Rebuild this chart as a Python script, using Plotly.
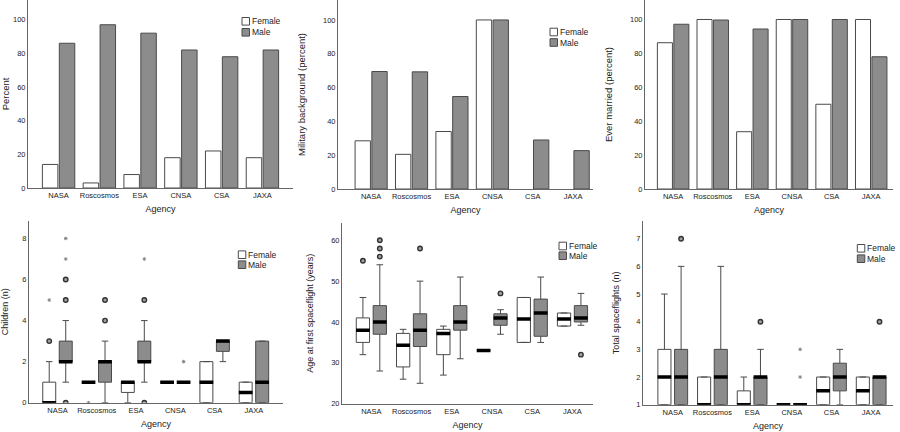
import plotly.graph_objects as go
import numpy as np

# ---------------- data ----------------
agencies = ["NASA", "Roscosmos", "ESA", "CNSA", "CSA", "JAXA"]

pct_female = [14, 3, 8, 18, 22, 18]
pct_male = [86, 97, 92, 82, 78, 82]

mil_female = [28.5, 20.5, 34, 100, None, None]
mil_male = [69.5, 69.3, 54.7, 100, 29, 22.7]

mar_female = [86.3, 100, 33.8, 100, 50, 100]
mar_male = [97.2, 99.7, 94.4, 100, 100, 78]

# Children (n): q1, median, q3, lower whisker, upper whisker
ch_f_q1 = [0, 1, 0.5, 1, 0, 0]
ch_f_med = [0, 1, 1, 1, 1, 0.5]
ch_f_q3 = [1, 1, 1, 1, 2, 1]
ch_f_lo = [0, 1, 0, 1, 0, 0]
ch_f_hi = [2, 1, 1, 1, 2, 1]
ch_m_q1 = [2, 1, 2, 1, 2.5, 0]
ch_m_med = [2, 2, 2, 1, 3, 1]
ch_m_q3 = [3, 2, 3, 1, 3, 3]
ch_m_lo = [1, 0, 1, 1, 2, 0]
ch_m_hi = [4, 3, 4, 1, 3, 3]
ch_f_out_agency = ["NASA"]
ch_f_out_val = [3]
ch_f_ext_agency = ["NASA", "Roscosmos"]
ch_f_ext_val = [5, 0]
ch_m_out_agency = ["NASA", "NASA", "NASA", "Roscosmos", "Roscosmos", "ESA", "ESA"]
ch_m_out_val = [5, 6, 0, 4, 5, 5, 0]
ch_m_ext_agency = ["NASA", "NASA", "ESA", "CNSA"]
ch_m_ext_val = [7, 8, 7, 2]

# Age at first spaceflight (years)
ag_f_q1 = [35, 29, 32, 33, 35, 39]
ag_f_med = [38, 34.3, 37.2, 33, 40.7, 40.7]
ag_f_q3 = [41, 37.2, 38.2, 33, 46, 42.2]
ag_f_lo = [32, 26, 27, 33, 35, 39]
ag_f_hi = [46, 38.2, 39, 33, 46, 42.2]
ag_m_q1 = [37, 34, 38, 39.2, 36.5, 40]
ag_m_med = [40, 38, 40, 41, 42.2, 41]
ag_m_q3 = [44, 42, 44, 42, 45.6, 44]
ag_m_lo = [28, 25, 31, 37, 35, 39.2]
ag_m_hi = [54, 50, 51, 43, 51, 47]
ag_f_out_agency = ["NASA"]
ag_f_out_val = [55]
ag_m_out_agency = ["NASA", "NASA", "NASA", "Roscosmos", "CNSA", "JAXA"]
ag_m_out_val = [56, 58, 60, 58, 47, 32]

# Total spaceflights (n)
sf_f_q1 = [1, 1, 1, 1, 1, 1]
sf_f_med = [2, 1, 1, 1, 1.5, 1.5]
sf_f_q3 = [3, 2, 1.5, 1, 2, 2]
sf_f_lo = [1, 1, 1, 1, 1, 1]
sf_f_hi = [5, 2, 2, 1, 2, 2]
sf_m_q1 = [1, 1, 1, 1, 1.5, 1]
sf_m_med = [2, 2, 2, 1, 2, 2]
sf_m_q3 = [3, 3, 2, 1, 2.5, 2]
sf_m_lo = [1, 1, 1, 1, 1, 1]
sf_m_hi = [6, 6, 3, 1, 3, 2]
sf_m_out_agency = ["NASA", "ESA", "JAXA"]
sf_m_out_val = [7, 4, 4]
sf_m_ext_agency = ["CNSA", "CNSA"]
sf_m_ext_val = [2, 3]

# ---------------- style ----------------
FONT = "Liberation Sans, Arial, sans-serif"
GRAY = "#8c8c8c"
EDGE = "#4a4a4a"
AXIS = "#666666"
BOXW = 0.33
OFF = 0.21

idx = {a: i for i, a in enumerate(agencies)}
pos = np.arange(len(agencies))

fig = go.Figure()


def add_bars(n, fem, mal):
    xa, ya = f"x{n}" if n > 1 else "x", f"y{n}" if n > 1 else "y"
    fig.add_trace(go.Bar(x=agencies, y=fem, name="Female", marker=dict(color="white", line=dict(color=EDGE, width=1)),
                         xaxis=xa, yaxis=ya, showlegend=False, offsetgroup="f"))
    fig.add_trace(go.Bar(x=agencies, y=mal, name="Male", marker=dict(color=GRAY, line=dict(color=EDGE, width=1)),
                         xaxis=xa, yaxis=ya, showlegend=False, offsetgroup="m"))


def add_boxes(n, f, m, outs, exts):
    xa, ya = f"x{n}", f"y{n}"
    for (q1, med, q3, lo, hi), off, fill, name in [(f, -OFF, "white", "Female"), (m, OFF, GRAY, "Male")]:
        xs = pos + off
        fig.add_trace(go.Box(x=xs, q1=q1, median=med, q3=q3, lowerfence=lo, upperfence=hi,
                             width=BOXW, whiskerwidth=0.5, fillcolor=fill, name=name,
                             line=dict(color=EDGE, width=1), boxpoints=False,
                             xaxis=xa, yaxis=ya, showlegend=False))
        fig.add_trace(go.Scatter(x=xs, y=med, mode="markers", xaxis=xa, yaxis=ya, showlegend=False,
                                 marker=dict(symbol="line-ew", size=9.8, line=dict(color="black", width=3.5)),
                                 hoverinfo="skip"))
    for ag, val, off in outs:
        if ag:
            fig.add_trace(go.Scatter(x=[idx[a] + off for a in ag], y=val, mode="markers", xaxis=xa, yaxis=ya,
                                     showlegend=False,
                                     marker=dict(symbol="circle", size=4.5, color="#a0a0a0",
                                                 line=dict(color="#333333", width=1.4))))
    for ag, val, off in exts:
        if ag:
            fig.add_trace(go.Scatter(x=[idx[a] + off for a in ag], y=val, mode="markers", xaxis=xa, yaxis=ya,
                                     showlegend=False,
                                     marker=dict(symbol="asterisk-open", size=3, color="#888888",
                                                 line=dict(color="#999999", width=1))))


add_bars(1, pct_female, pct_male)
add_bars(2, mil_female, mil_male)
add_bars(3, mar_female, mar_male)
add_boxes(4, (ch_f_q1, ch_f_med, ch_f_q3, ch_f_lo, ch_f_hi), (ch_m_q1, ch_m_med, ch_m_q3, ch_m_lo, ch_m_hi),
          [(ch_f_out_agency, ch_f_out_val, -OFF), (ch_m_out_agency, ch_m_out_val, OFF)],
          [(ch_f_ext_agency, ch_f_ext_val, -OFF), (ch_m_ext_agency, ch_m_ext_val, OFF)])
add_boxes(5, (ag_f_q1, ag_f_med, ag_f_q3, ag_f_lo, ag_f_hi), (ag_m_q1, ag_m_med, ag_m_q3, ag_m_lo, ag_m_hi),
          [(ag_f_out_agency, ag_f_out_val, -OFF), (ag_m_out_agency, ag_m_out_val, OFF)], [])
add_boxes(6, (sf_f_q1, sf_f_med, sf_f_q3, sf_f_lo, sf_f_hi), (sf_m_q1, sf_m_med, sf_m_q3, sf_m_lo, sf_m_hi),
          [(sf_m_out_agency, sf_m_out_val, OFF)], [(sf_m_ext_agency, sf_m_ext_val, OFF)])

W, H = 900, 432
# panel geometry in pixels: (x0, x1, ybottom, ytop)
panels = {
    1: (28, 293, 188, 0),
    2: (338, 593, 189, 0),
    3: (645, 893, 189, 0),
    4: (29, 283, 402.7, 221),
    5: (342, 593, 403.7, 222.7),
    6: (643, 893, 404.7, 221),
}
xranges = {1: [-0.75, 5.75], 2: [-0.82, 5.49], 3: [-0.71, 5.55], 4: [-0.725, 5.74], 5: [-0.73, 5.51], 6: [-0.75, 5.55]}
yranges = {1: [0, 111.7], 2: [0, 111.8], 3: [0, 111.5], 4: [0, 8.85], 5: [20, 64.3], 6: [1, 7.64]}
ytitles = {1: "Percent", 2: "Military background (percent)", 3: "Ever married (percent)",
           4: "Children (n)", 5: "Age at first spaceflight (years)", 6: "Total spaceflights (n)"}
ytitle_size = {1: 9.5, 2: 9.5, 3: 9.5, 4: 9, 5: 9, 6: 9}
yticks = {1: [0, 20, 40, 60, 80, 100], 2: [0, 20, 40, 60, 80, 100], 3: [0, 20, 40, 60, 80, 100],
          4: [0, 2, 4, 6, 8], 5: [20, 30, 40, 50, 60], 6: [1, 2, 3, 4, 5, 6, 7]}

layout = dict(
    width=W, height=H, margin=dict(l=0, r=0, t=0, b=0),
    paper_bgcolor="white", plot_bgcolor="white",
    font=dict(family=FONT, color="#222222"),
    barmode="group", bargap=0.17, bargroupgap=0.085,
    boxmode="overlay",
)
for n, (x0, x1, yb, yt) in panels.items():
    s = "" if n == 1 else str(n)
    xax = dict(domain=[x0 / W, x1 / W], range=xranges[n], anchor=f"y{s}" if s else "y",
               showline=True, linecolor=AXIS, linewidth=1, showgrid=False, zeroline=False, automargin=True,
               ticks="", tickfont=dict(size=7.5, family=FONT),
               title=dict(text="Agency", font=dict(size=9, family=FONT), standoff=6))
    if n >= 4:
        xax.update(tickvals=list(pos), ticktext=agencies)
    yax = dict(domain=[1 - yb / H, 1 - yt / H], range=yranges[n], anchor=f"x{s}" if s else "x",
               showline=True, linecolor=AXIS, linewidth=1, showgrid=False, zeroline=False, automargin=False,
               ticks="", tickvals=yticks[n], tickfont=dict(size=7.5, family=FONT),
               title=dict(text=ytitles[n], font=dict(size=ytitle_size[n], family=FONT)))
    layout[f"xaxis{s}"] = xax
    layout[f"yaxis{s}"] = yax

fig.update_layout(**layout)

# hand-drawn compact legends (swatch left x, female centre y, male centre y) in pixels
legends = [(242, 21.3, 32.3), (550, 32, 42.5), (238.3, 254.7, 264.7), (559, 246, 255.7), (857.3, 248.3, 258.7)]
for lx, fy, my in legends:
    for cy, fill, label in [(fy, "white", "Female"), (my, GRAY, "Male")]:
        fig.add_shape(type="rect", xref="paper", yref="paper",
                      x0=lx / W, x1=(lx + 7.5) / W, y0=1 - (cy + 3.8) / H, y1=1 - (cy - 3.8) / H,
                      fillcolor=fill, line=dict(color=EDGE, width=1))
        fig.add_annotation(xref="paper", yref="paper", x=(lx + 8.5) / W, y=1 - cy / H, text=label,
                           showarrow=False, xanchor="left", yanchor="middle", borderpad=0,
                           font=dict(size=8.5, family=FONT, color="#222222"))

fig.write_html("out.html", config={"displayModeBar": False},
               post_script="document.body.style.margin='0';document.body.style.padding='0';")
